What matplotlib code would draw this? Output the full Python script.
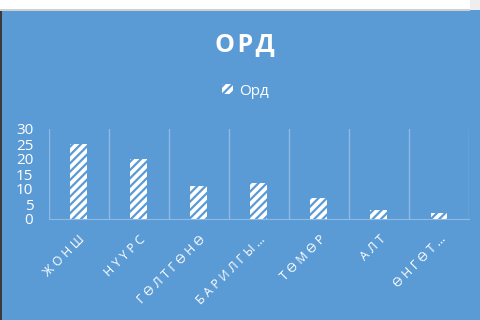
import numpy as np
import matplotlib.pyplot as plt
from matplotlib.patches import Rectangle

plt.rcParams['font.family'] = ['Open Sans', 'DejaVu Sans']
plt.rcParams['hatch.linewidth'] = 1.6

# Mined resources and their counts
categories = ["ЖОНШ", "НҮҮРС", "ГӨЛТГӨНӨ", "БАРИЛГЫ…", "ТӨМӨР", "АЛТ", "ӨНГӨТ…"]
values = [25, 20, 11, 12, 7, 3, 2]
series_name = "Орд"

blue = "#5B9BD5"
grid_col = "#8DB9E4"

fig = plt.figure(figsize=(4.81, 3.2), dpi=100, facecolor="white")

# chart background panel, plus the thin frame bits around it
def panel(x0, y0, w, h, col):
    fig.patches.append(Rectangle((x0 / 481, y0 / 320), w / 481, h / 320,
                                 transform=fig.transFigure, facecolor=col,
                                 edgecolor="none", zorder=-5))

panel(2, 0, 479, 310, blue)
panel(0, 0, 2, 310, "#3a3a3a")
panel(470, 310, 11, 10, "#eeeeee")
panel(0, 309.5, 470, 1, "#d0d0d0")

ax = fig.add_axes([48.5 / 481, 101 / 320, 420.5 / 481, 90 / 320])
ax.set_facecolor("none")

x = np.arange(len(categories))
ax.bar(x, values, width=0.28, color="white", edgecolor=blue, linewidth=0,
       hatch="////", label=series_name, zorder=3)

ax.set_xlim(-0.5, len(categories) - 0.5)
ax.set_ylim(0, 30)
ax.set_yticks([0, 5, 10, 15, 20, 25, 30])
ax.tick_params(axis="y", length=0, pad=11, labelcolor="white", labelsize=11)

# vertical gridlines between categories
ax.set_xticks(np.arange(-0.5, len(categories)), minor=True)
ax.grid(True, which="minor", axis="x", color=grid_col, linewidth=1)
ax.set_xticks(x)
spaced = ["\u2009\u200a".join(c) for c in categories]
ax.set_xticklabels(spaced, rotation=45, ha="right", rotation_mode="anchor",
                   color="white", fontsize=9)
ax.tick_params(axis="x", which="both", length=0, pad=10)

for side in ["left", "right", "top"]:
    ax.spines[side].set_visible(False)
ax.spines["bottom"].set_color(grid_col)

fig.text(0.51, 0.86, "\u200a".join("ОРД"), ha="center", va="center", color="white",
         fontsize=18, fontweight="bold")

leg = fig.legend(loc="center", bbox_to_anchor=(0.51, 0.715), frameon=False,
                 labelcolor="white", fontsize=11, handlelength=0.75,
                 handleheight=0.65, handletextpad=0.35)

fig.savefig("out.png", dpi=100, facecolor=fig.get_facecolor())
